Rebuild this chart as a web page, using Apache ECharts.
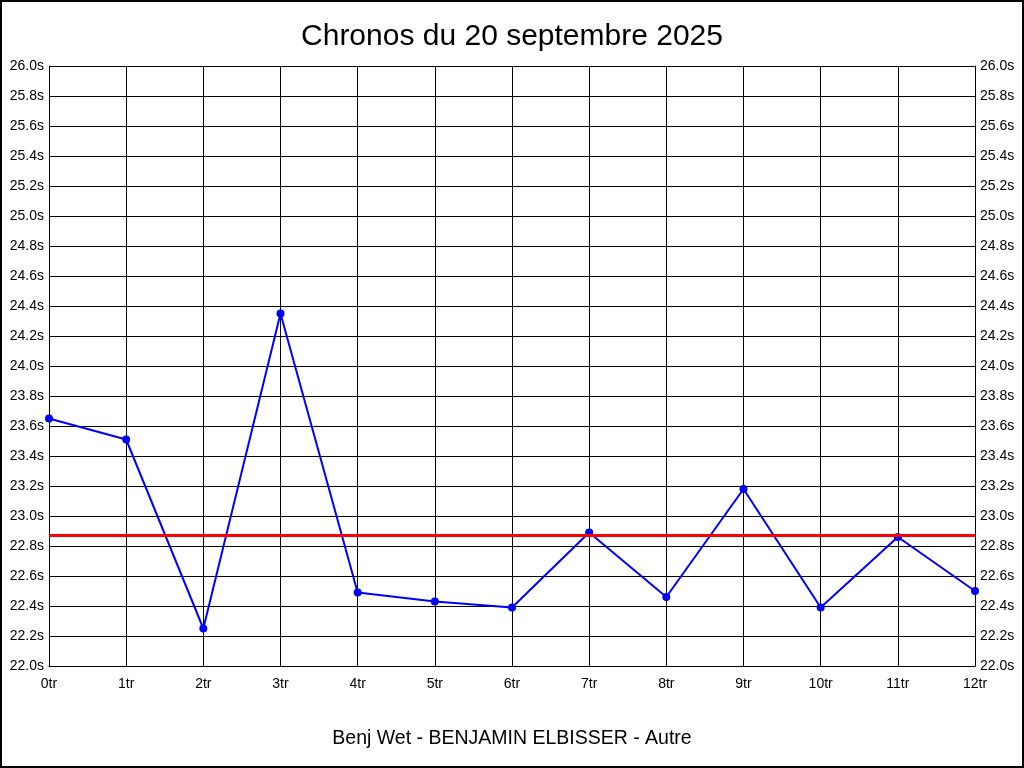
<!DOCTYPE html>
<html>
<head>
<meta charset="utf-8">
<script src="https://cdn.jsdelivr.net/npm/echarts@6/dist/echarts.min.js"></script>
<style>
html,body{margin:0;padding:0;background:#fff;}
#chart{width:1024px;height:768px;}
</style>
</head>
<body>
<div id="chart"></div>
<script>
const categories = ['0tr','1tr','2tr','3tr','4tr','5tr','6tr','7tr','8tr','9tr','10tr','11tr','12tr'];
const times = [23.65, 23.51, 22.25, 24.35, 22.49, 22.43, 22.39, 22.89, 22.46, 23.18, 22.39, 22.86, 22.50];
const averageTime = 22.87;
const titleText = 'Chronos du 20 septembre 2025';
const subtitleText = 'Benj Wet - BENJAMIN ELBISSER - Autre';

const chart = echarts.init(document.getElementById('chart'));
const fontFamily = '"Liberation Sans", Arial, sans-serif';
const yAxisCommon = {
  type: 'value', min: 22, max: 26, interval: 0.2,
  axisLine: {show: true, lineStyle: {color: '#000', width: 1}},
  axisTick: {show: false},
  splitLine: {show: true, lineStyle: {color: '#000', width: 1}},
  axisLabel: {color: '#000', fontSize: 14, fontFamily, margin: 5,
    formatter: v => v.toFixed(1) + 's'}
};
chart.setOption({
  animation: false,
  backgroundColor: '#fff',
  title: [
    {text: titleText, left: 'center', top: 17,
     textStyle: {fontSize: 30, fontWeight: 'normal', color: '#000', fontFamily}},
    {text: subtitleText, left: 'center', top: 724,
     textStyle: {fontSize: 19.5, fontWeight: 'normal', color: '#000', fontFamily}}
  ],
  graphic: [{type: 'rect', shape: {x: 1, y: 1, width: 1022, height: 766},
    style: {fill: 'none', stroke: '#000', lineWidth: 2}, silent: true}],
  grid: {left: 49, right: 49, top: 66, bottom: 102, containLabel: false},
  xAxis: {
    type: 'category', data: categories, boundaryGap: false,
    axisLine: {show: true, lineStyle: {color: '#000'}},
    axisTick: {show: false},
    splitLine: {show: true, lineStyle: {color: '#000', width: 1}},
    axisLabel: {color: '#000', fontSize: 14, fontFamily, margin: 11}
  },
  yAxis: [
    Object.assign({}, yAxisCommon, {position: 'left'}),
    Object.assign({}, yAxisCommon, {position: 'right', splitLine: {show: false}})
  ],
  series: [{
    type: 'line', data: times, yAxisIndex: 0,
    symbol: 'circle', symbolSize: 8, showSymbol: true,
    itemStyle: {color: '#0000ff'},
    lineStyle: {color: '#0000ff', width: 2},
    markLine: {
      silent: true, symbol: 'none', label: {show: false},
      lineStyle: {color: '#ff0000', width: 3, type: 'solid'},
      data: [{yAxis: averageTime}]
    }
  }]
});
</script>
</body>
</html>
